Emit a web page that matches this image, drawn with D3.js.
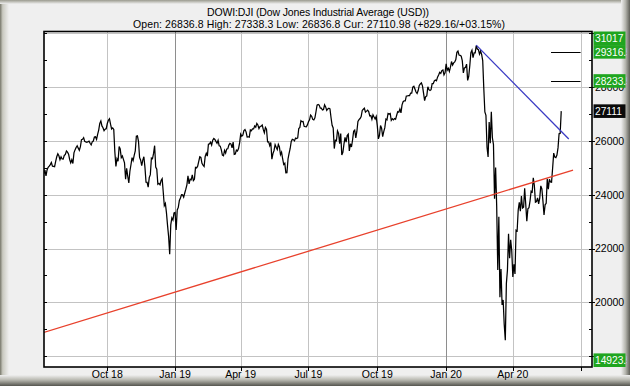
<!DOCTYPE html>
<html><head><meta charset="utf-8">
<script src="https://cdn.jsdelivr.net/npm/d3@7"></script>
<style>body{margin:0;background:#efefef}svg{display:block}</style>
</head><body><svg id="c" width="630" height="386"></svg>
<script>
// ---- DATA (DJIA daily closes, trading days from 2018-07-09 to 2020-06-05) ----
const titleText = "DOWI:DJI (Dow Jones Industrial Average (USD))";
const subtitleText = "Open: 26836.8 High: 27338.3 Low: 26836.8 Cur: 27110.98 (+829.16/+03.15%)";
const closes = [
// Jul 2018
24777,24920,24700,24925,25019,25064,25120,25199,25065,25058,25044,25242,25414,25527,25451,25307,25415,
// Aug 2018
25334,25326,25463,25502,25629,25584,25509,25313,25188,25300,25162,25559,25669,25759,25822,25734,25657,25790,26050,26064,26125,25987,25965,
// Sep 2018
25952,25975,25996,25917,25857,25971,25999,26146,26155,26062,26247,26406,26657,26744,26562,26492,26385,26440,26458,
// Oct 2018
26651,26774,26828,26627,26447,26487,26431,25599,25053,25340,25251,25798,25707,25379,25444,25317,25191,24583,24985,24688,24443,24875,25116,
// Nov 2018
25381,25271,25462,25635,26180,26191,25989,25387,25286,25081,25289,25413,25017,24466,24465,24286,24640,24749,25366,25339,25538,
// Dec 2018
25826,25027,24948,24389,24423,24370,24527,24597,24101,23593,23676,23324,22860,22445,21792,22878,23139,23062,23327,
// Jan 2019
23346,22686,23433,23531,23787,23879,24002,23996,23910,24066,24207,24370,24706,24404,24576,24553,24737,24528,24580,25015,25000,
// Feb 2019
25064,25239,25412,25390,25170,25106,25053,25426,25543,25439,25883,25891,25954,25851,26032,26092,26058,25985,25916,
// Mar 2019
26026,25820,25807,25673,25473,25450,25651,25555,25703,25710,25849,25914,25887,25746,25963,25502,25517,25658,25626,25717,25929,
// Apr 2019
26258,26179,26218,26385,26425,26341,26151,26157,26143,26412,26385,26453,26450,26560,26511,26656,26597,26462,26543,26554,26593,
// May 2019
26430,26308,26505,26438,25965,25967,25828,25942,25325,25532,25648,25863,25764,25680,25877,25777,25490,25586,25348,25126,25170,24815,
// Jun 2019
24820,25332,25540,25721,25984,26063,26049,26005,26107,26090,26113,26466,26504,26753,26719,26728,26548,26537,26527,26600,
// Jul 2019
26717,26787,26966,26922,26806,26783,26860,27088,27332,27359,27336,27220,27223,27154,27172,27349,27270,27141,27192,27221,27198,26864,
// Aug 2019
26583,26485,25718,26030,26007,26378,26287,25896,26280,25479,25579,25886,26136,25962,26203,26252,25629,25899,25778,26036,26362,26403,
// Sep 2019
26118,26355,26728,26797,26836,26909,27137,27182,27220,27077,27111,27147,27095,26935,26950,26808,26971,26891,26820,26917,
// Oct 2019
26573,26079,26201,26574,26478,26164,26346,26497,26817,26787,27025,27002,27026,26770,26828,26788,26834,26806,26958,27091,27071,27187,27046,
// Nov 2019
27347,27462,27493,27493,27675,27681,27691,27691,27784,27782,28005,28036,27934,27821,27766,27876,28066,28122,28164,28051,
// Dec 2019
27783,27503,27650,27678,28015,27910,27882,27911,28132,28135,28236,28267,28239,28377,28455,28552,28515,28621,28645,28462,28538,
// Jan 2020
28869,28635,28703,28584,28745,28957,28824,28907,28940,29030,29298,29348,29196,29186,29160,28990,28536,28723,28734,28859,28256,
// Feb 2020
28400,28808,29291,29380,29103,29277,29276,29551,29423,29398,29232,29348,29220,28992,27961,27081,26958,25767,25409,
// Mar 2020
26703,25917,27091,26121,25865,23851,25018,23553,21201,23186,20189,21237,19899,20087,19174,18592,20705,21201,22552,21637,22327,21917,
// Apr 2020
20944,21413,21053,22680,22654,23434,23719,23391,23950,23504,23538,24242,23650,23019,23476,23515,23775,24134,24102,24634,24346,
// May 2020
23724,23750,23883,23665,23876,24331,24222,23765,23248,23625,23685,24597,24207,24576,24474,24465,24995,25548,25401,25383,
// Jun 2020
25475,25743,26270,26282,27111
];
const quarterIndex = [59,122,183,246,310,374,436,499];           // trading-day index of quarter starts
const quarterLabels = ["Oct 18","Jan 19","Apr 19","Jul 19","Oct 19","Jan 20","Apr 20",""];
const yearIndex = [122,374];
const gridValues = [18000,20000,22000,24000,26000,28000,30000];
const labelValues = [20000,22000,24000,26000,28000];
const minorValues = [18000,19000,20000,21000,22000,23000,24000,25000,26000,27000,28000,29000,30000];
const redTrend = [[0,18880],[492,24920]];
const blueTrend = [[402,29568],[488,26074]];
const levelValues = [29316,28233];
const levelSpan = [471.5,499];
const priceTags = ["31017","29316.5","28233.5","27111","14923.5"];
const priceTagValues = [31017,29316.5,28233.5,27111,14923.5];

// ---- LAYOUT ----
const W=630,H=386,L=44,T=31.5,R=592,B=367;
const svg=d3.select("#c");
const defs=svg.append("defs");
function grad(id,x1,y1,x2,y2,stops){const g=defs.append("linearGradient").attr("id",id).attr("x1",x1).attr("y1",y1).attr("x2",x2).attr("y2",y2);
 stops.forEach(s=>g.append("stop").attr("offset",s[0]).attr("stop-color",s[1]));}
grad("gl",0,0,1,0,[[0,"#77776a"],[0.3,"#c9c9c0"],[1,"#efefef"]]);
grad("gt",0,0,0,1,[[0,"#9a9a8e"],[1,"#efefef"]]);
grad("gr",0,0,1,0,[[0,"#efefef"],[0.5,"#b5b5ae"],[1,"#5e5e57"]]);
grad("gb",0,0,0,1,[[0,"#efefef"],[0.45,"#b8b8b0"],[1,"#55554e"]]);
svg.append("rect").attr("width",W).attr("height",H).attr("fill","#efefef");
svg.append("rect").attr("x",0).attr("y",0).attr("width",9).attr("height",H).attr("fill","url(#gl)");
svg.append("rect").attr("x",0).attr("y",0).attr("width",W).attr("height",4).attr("fill","url(#gt)");
svg.append("rect").attr("x",621).attr("y",0).attr("width",9).attr("height",H).attr("fill","url(#gr)");
svg.append("rect").attr("x",0).attr("y",375).attr("width",W).attr("height",11).attr("fill","url(#gb)");

const x=d3.scaleLinear().domain([0.15,509.6]).range([L,R]);
const y=d3.scaleLinear().domain([17592,30074]).range([B,T]);

defs.append("clipPath").attr("id","plot").append("rect").attr("x",L).attr("y",T).attr("width",R-L).attr("height",B-T);
svg.append("rect").attr("x",L).attr("y",T).attr("width",R-L).attr("height",B-T).attr("fill","#fff");

const grid=svg.append("g").attr("clip-path","url(#plot)").attr("shape-rendering","crispEdges");
grid.selectAll(".hg").data(gridValues).join("line").attr("x1",L).attr("x2",R)
  .attr("y1",d=>Math.round(y(d))+0.5).attr("y2",d=>Math.round(y(d))+0.5).attr("stroke","#c3c3c3");
grid.selectAll(".vg").data(quarterIndex).join("line")
  .attr("x1",d=>Math.round(x(d))+0.5).attr("x2",d=>Math.round(x(d))+0.5).attr("y1",T).attr("y2",B)
  .attr("stroke",d=>yearIndex.includes(d)?"#8e8e8e":"#c3c3c3");

// data
const plot=svg.append("g").attr("clip-path","url(#plot)");
plot.append("path").datum(closes).attr("fill","none").attr("stroke","#000").attr("stroke-width",1.25)
  .attr("stroke-linejoin","miter").attr("d",d3.line().x((d,i)=>x(i)).y(d=>y(d)));
plot.append("path").datum(redTrend).attr("fill","none").attr("stroke","#e8412c").attr("stroke-width",1.3)
  .attr("d",d3.line().x(d=>x(d[0])).y(d=>y(d[1])));
plot.append("path").datum(blueTrend).attr("fill","none").attr("stroke","#3a3ac4").attr("stroke-width",1.3)
  .attr("d",d3.line().x(d=>x(d[0])).y(d=>y(d[1])));
plot.selectAll(".lv").data(levelValues).join("line").attr("x1",x(levelSpan[0])).attr("x2",x(levelSpan[1]))
  .attr("y1",d=>Math.round(y(d))+0.5).attr("y2",d=>Math.round(y(d))+0.5).attr("stroke","#000").attr("stroke-width",1);

// frame
svg.append("rect").attr("x",L).attr("y",T).attr("width",R-L).attr("height",B-T).attr("fill","none")
  .attr("stroke","#000").attr("stroke-width",1.6);

// ticks
const tk=svg.append("g").attr("stroke","#000").attr("shape-rendering","crispEdges");
tk.selectAll(".lt").data(minorValues).join("line").attr("x1",L).attr("x2",L+3)
  .attr("y1",d=>Math.round(y(d))+0.5).attr("y2",d=>Math.round(y(d))+0.5);
tk.selectAll(".rt").data(minorValues).join("line").attr("x1",R-3).attr("x2",d=>gridValues.includes(d)?R+3:R)
  .attr("y1",d=>Math.round(y(d))+0.5).attr("y2",d=>Math.round(y(d))+0.5);
tk.selectAll(".bt").data(quarterIndex).join("line").attr("x1",d=>Math.round(x(d))+0.5).attr("x2",d=>Math.round(x(d))+0.5)
  .attr("y1",B).attr("y2",B+4);

const font="'Liberation Sans', Arial, sans-serif";
// x labels
svg.append("g").selectAll("text").data(quarterIndex).join("text")
  .attr("x",d=>x(d)).attr("y",378).attr("text-anchor","middle").attr("font-family",font).attr("font-size",10.5)
  .attr("fill","#000").text((d,i)=>quarterLabels[i]);
// right labels
svg.append("g").selectAll("text").data(labelValues).join("text")
  .attr("x",595).attr("y",d=>y(d)).attr("dy","0.36em").attr("font-family",font).attr("font-size",10.5)
  .attr("fill","#000").text(d=>d);

// price tags
defs.append("clipPath").attr("id","tagclip").append("rect").attr("x",593).attr("y",0).attr("width",34).attr("height",H);
const tg=svg.append("g").attr("clip-path","url(#tagclip)");
const tagH=13.6;
priceTagValues.forEach((v,i)=>{
  let cy=Math.max(T+tagH/2,Math.min(B-tagH/2,y(v)));
  const fill = i===3 ? "#0a0a0a" : "#1fa51f";
  tg.append("rect").attr("x",593.5).attr("y",cy-tagH/2).attr("width",32).attr("height",tagH).attr("fill",fill);
  tg.append("text").attr("x",595).attr("y",cy).attr("dy","0.36em").attr("font-family",font).attr("font-size",10.2)
    .attr("fill","#fff").text(priceTags[i]);
});

// titles
svg.append("text").attr("x",318).attr("y",15.5).attr("text-anchor","middle").attr("font-family",font)
  .attr("font-size",10.5).attr("fill","#000").attr("textLength",222).attr("lengthAdjust","spacing").text(titleText);
svg.append("text").attr("x",319).attr("y",28).attr("text-anchor","middle").attr("font-family",font)
  .attr("font-size",10.5).attr("fill","#000").attr("textLength",372).attr("lengthAdjust","spacing").text(subtitleText);
</script></body></html>
